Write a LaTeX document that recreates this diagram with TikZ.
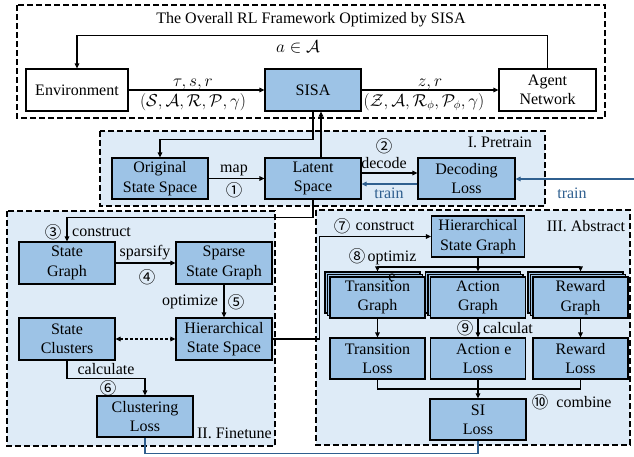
\documentclass[tikz,border=0pt]{standalone}
\usepackage{fontspec}
\setmainfont{Liberation Serif}
\newfontfamily\circfont{Noto Sans CJK SC}
\usetikzlibrary{arrows.meta,shadows}

\definecolor{boxfill}{HTML}{9DC3E6}
\definecolor{regionfill}{HTML}{DEEBF7}
\definecolor{trainblue}{HTML}{2F5F8F}

\tikzset{
  every node/.style={font=\rmfamily\fontsize{16}{20}\selectfont},
  region/.style={draw, dashed, dash pattern=on 6pt off 3pt, line width=1.1pt},
  plainbox/.style={draw, line width=1.1pt, align=center, minimum width=96pt,
    minimum height=41pt, inner sep=0pt, font=\rmfamily\fontsize{16}{19.3}\selectfont},
  bluebox/.style={plainbox, fill=boxfill},
  stackbox/.style={bluebox, double copy shadow={shadow xshift=-2.5pt,
    shadow yshift=2.5pt, fill=boxfill, draw, line width=1.1pt}},
  arr/.style={draw, line width=1.1pt, -{Triangle[length=5pt,width=4.5pt]}},
  twoarr/.style={draw, line width=1.1pt, dashed, dash pattern=on 3pt off 2pt,
    {Triangle[length=5pt,width=4.5pt]}-{Triangle[length=5pt,width=4.5pt]}},
  bluearr/.style={draw=trainblue, line width=1.1pt, -{Triangle[length=5pt,width=4.5pt]}},
  blueline/.style={draw=trainblue, line width=1.1pt},
  lbl/.style={inner sep=0pt},
  circ/.style={inner sep=0pt, font=\circfont\fontsize{16.5}{18}\selectfont},
  wrap/.style={inner sep=0pt, align=center, font=\rmfamily\fontsize{16}{20.5}\selectfont},
  bluelbl/.style={inner sep=0pt, text=trainblue}
}

\begin{document}
\begin{tikzpicture}[x=1pt, y=-1pt]
\useasboundingbox (0,0) rectangle (634,456);

% stage regions
\draw[region] (17,5) rectangle (605,118);
\draw[region, fill=regionfill] (100,131) rectangle (545,206);
\draw[region, fill=regionfill] (7,211) rectangle (275,446);
\draw[region, fill=regionfill] (316,210) rectangle (630,445);

% overall framework
\node[plainbox, minimum width=102pt, minimum height=42pt] (env) at (77,90) {Environment};
\node[bluebox, minimum height=42pt] (sisa) at (313,90) {SISA};
\node[plainbox, minimum width=97pt, minimum height=42pt] (agent) at (547.5,90) {Agent\\Network};

% I. Pretrain
\node[bluebox] (orig) at (160,178.5) {Original\\State Space};
\node[bluebox] (latent) at (313,178.5) {Latent\\Space};
\node[bluebox, minimum width=97pt] (dec) at (466.5,178.5) {Decoding\\Loss};

% II. Finetune
\node[bluebox, minimum height=42pt] (sg) at (67,263) {State\\Graph};
\node[bluebox, minimum height=42pt] (ssg) at (224,263) {Sparse\\State Graph};
\node[bluebox, minimum height=42pt] (sc) at (67,339) {State\\Clusters};
\node[bluebox, minimum height=42pt] (hss) at (224,339) {Hierarchical\\State Space};
\node[bluebox] (cl) at (145,416.5) {Clustering\\Loss};

% III. Abstract
\node[bluebox, minimum width=93pt] (hsg) at (478,236.5) {Hierarchical\\State Graph};
\node[stackbox, minimum width=95pt] (tg) at (377.5,297.5) {Transition\\Graph};
\node[stackbox, minimum width=95pt] (ag) at (478,297.5) {Action\\Graph};
\node[stackbox, minimum width=95pt] (rg) at (580.5,297.5) {Reward\\Graph};
\node[bluebox, minimum width=95pt] (tl) at (377.5,358.5) {Transition\\Loss};
\node[bluebox, minimum width=95pt] (al) at (478,358.5) {Action\\Loss};
\node[bluebox, minimum width=95pt] (rl) at (580.5,358.5) {Reward\\Loss};
\node[bluebox] (si) at (478,419.5) {SI\\Loss};

% connectors of the overall loop
\draw[arr] (env.east) -- (sisa.west);
\draw[arr] (sisa.east) -- (agent.west);
\draw[arr] (agent.north) -- ++(0,-33) -| (env.north);
\draw[arr] (sisa.south) -- ++(0,28) -| (orig.north);
\draw[arr] ([xshift=8pt]latent.north) -- ([xshift=8pt]latent.north |- sisa.south);

% pretrain connectors
\draw[arr] (orig.east) -- (latent.west);
\draw[arr] ([yshift=5.5pt]latent.east) -- ([yshift=5.5pt]latent.east -| dec.west);
\draw[bluearr] ([yshift=-5.5pt]dec.west) -- ([yshift=-5.5pt]dec.west -| latent.east);
\coordinate (trainin) at (634,179);
\draw[bluearr] (trainin) -- (trainin -| dec.east);

% finetune connectors
\draw[arr] (latent.south) -- ++(0,18) -| (sg.north);
\draw[arr] (sg.east) -- (ssg.west);
\draw[arr] (ssg.south) -- (hss.north);
\draw[twoarr] (sc.east) -- (hss.west);
\draw[arr] (sc.south) -- ++(0,18) -| (cl.north);

% abstract connectors
\draw[arr] (hss.east) -- ++(47,0) |- (hsg.west);
\coordinate (split) at (478,267);
\draw[line width=1.1pt] (hsg.south) -- (split);
\draw[arr] (split) -| ([yshift=5pt]tg.north);
\draw[arr] (split) -- ([yshift=5pt]ag.north);
\draw[arr] (split) -| ([yshift=5pt]rg.north);
\draw[arr] (tg.south) -- (tl.north);
\draw[arr] (ag.south) -- (al.north);
\draw[arr] (rg.south) -- (rl.north);
\coordinate (merge) at (478,389);
\draw[line width=1.1pt] (tl.south) |- (merge) -| (rl.south);
\draw[arr] (al.south) -- (si.north);

% loss feedback line
\draw[blueline] (cl.south) -- ++(0,16) -| (si.south);

% labels
\node[lbl] (title) at (311,20) {The Overall RL Framework Optimized by SISA};
\node[lbl] (act) at (298,47) {$a\in\mathcal{A}$};
\node[lbl, anchor=base] (obs) at (193,86) {$\tau,s,r$};
\node[lbl, anchor=base] (mdp) at (193,106) {$(\mathcal{S},\mathcal{A},\mathcal{R},\mathcal{P},\gamma)$};
\node[lbl, anchor=base] (zr) at (430,86) {$z,r$};
\node[lbl, anchor=base] (amdp) at (424,106) {$(\mathcal{Z},\mathcal{A},\mathcal{R}_\phi,\mathcal{P}_\phi,\gamma)$};

\node[lbl] (map) at (234,170) {map};
\node[circ] (n1) at (234,190) {①};
\node[circ] (n2) at (384,146) {②};
\node[lbl] (decode) at (384,163) {decode};
\node[bluelbl] (train1) at (389,193) {train};
\node[lbl, anchor=east] (pre) at (532,142) {I. Pretrain};
\node[bluelbl] (train2) at (572,193) {train};

\node[circ] (n3) at (53,232) {③};
\node[lbl, anchor=west] (cons1) at (72,232) {construct};
\node[lbl] (spars) at (145,253) {sparsify};
\node[circ] (n4) at (147,277) {④};
\node[lbl] (opt) at (190,302) {optimize};
\node[circ] (n5) at (236,302) {⑤};
\node[lbl] (calc1) at (106,369) {calculate};
\node[circ] (n6) at (108,388) {⑥};
\node[lbl, anchor=east] (fine) at (272,433) {II. Finetune};

\node[circ] (n7) at (342,226) {⑦};
\node[lbl] (cons2) at (385,226) {construct};
\node[lbl] (abs) at (586,226) {III. Abstract};
\node[circ] (n8) at (357,256) {⑧};
\node[wrap] (opt2) at (392,266.5) {optimiz\\e};
\node[circ] (n9) at (465,328) {⑨};
\node[wrap] (calc2) at (508,338.5) {calculat\\e};
\node[circ] (n10) at (540,402) {⑩};
\node[lbl] (comb) at (584,402) {combine};
\end{tikzpicture}
\end{document}
